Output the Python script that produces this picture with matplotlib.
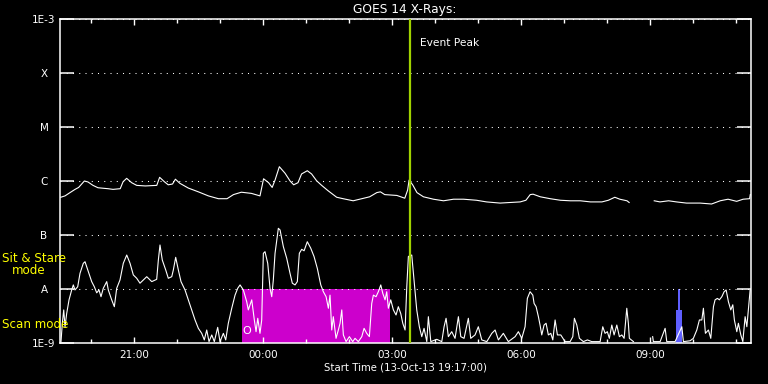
import numpy as np
import matplotlib
matplotlib.use("Agg")
import matplotlib.pyplot as plt
from matplotlib.ticker import NullLocator

nan = np.nan

# time axis: minutes elapsed since start (13-Oct-13 19:17:00)
START_CLOCK = "19:17"
X_END = 964

# long channel (upper curve), W/m^2
long_t = [1, 7, 14, 21, 26, 34, 39, 46, 53, 67,
          74, 84, 88, 93, 100, 107, 119, 135, 139, 146,
          151, 157, 161, 167, 179, 193, 207, 221, 233, 242,
          253, 267, 279, 284, 291, 296, 300, 306, 314, 321,
          326, 332, 337, 345, 351, 358, 365, 374, 386, 395,
          409, 421, 432, 442, 447, 453, 470, 481, 485, 487,
          492, 498, 507, 521, 535, 549, 563, 581, 595, 614,
          628, 642, 650, 656, 660, 670, 684, 698, 712, 726,
          740, 756, 765, 774, 781, 791, 794, 810, 829, 837,
          849, 860, 874, 893, 909, 921, 932, 944, 953, 962,
          963]
long_flux = [5.0e-7, 5.3e-7, 6.1e-7, 7.0e-7, 7.6e-7, 1.0e-6, 9.6e-7, 8.3e-7, 7.5e-7, 7.2e-7,
             7.0e-7, 7.2e-7, 9.7e-7, 1.12e-6, 9.3e-7, 8.3e-7, 8.1e-7, 8.3e-7, 1.17e-6, 9.6e-7,
             8.5e-7, 8.8e-7, 1.08e-6, 9.1e-7, 7.4e-7, 6.3e-7, 5.3e-7, 4.7e-7, 4.7e-7, 5.6e-7,
             6.2e-7, 5.9e-7, 5.3e-7, 1.10e-6, 9.3e-7, 7.6e-7, 1.04e-6, 1.84e-6, 1.39e-6, 1.0e-6,
             8.5e-7, 9.3e-7, 1.35e-6, 1.55e-6, 1.35e-6, 1.01e-6, 8.3e-7, 6.6e-7, 5.0e-7, 4.7e-7,
             4.3e-7, 4.7e-7, 5.1e-7, 6.1e-7, 6.3e-7, 5.6e-7, 5.4e-7, 4.8e-7, 6.8e-7, 1.04e-6,
             8.5e-7, 6.1e-7, 5.1e-7, 4.6e-7, 4.3e-7, 4.6e-7, 4.6e-7, 4.4e-7, 4.1e-7, 3.9e-7,
             4.0e-7, 4.1e-7, 4.4e-7, 5.6e-7, 5.7e-7, 5.1e-7, 4.7e-7, 4.4e-7, 4.3e-7, 4.3e-7,
             4.1e-7, 4.1e-7, 4.4e-7, 5.0e-7, 4.6e-7, 4.3e-7, 4.0e-7, nan, 4.3e-7, 4.1e-7,
             4.3e-7, 4.1e-7, 3.9e-7, 3.9e-7, 3.75e-7, 4.3e-7, 4.6e-7, 4.2e-7, 4.6e-7, 4.7e-7,
             5.6e-7]

# short channel (lower curve), W/m^2
short_t = [1.4, 3.2, 5.2, 7.0, 9.3, 12.6, 16.3, 18.6, 20.9, 24.7,
           27.9, 32.5, 34.9, 39.5, 44.2, 47.9, 51.2, 54.4, 57.2, 60.4,
           65.2, 67.4, 72.1, 75.8, 79.1, 83.7, 88.3, 93.1, 97.7, 102.3,
           107.0, 111.6, 116.2, 121.0, 128.0, 134.9, 137.2, 139.5, 142.7, 147.5,
           151.1, 155.9, 158.1, 161.4, 165.1, 168.8, 174.4, 179.0, 183.8, 188.4,
           193.0, 197.7, 201.3, 204.7, 207.9, 211.7, 215.3, 220.0, 223.2, 227.9,
           231.2, 234.8, 239.6, 244.2, 247.9, 251.2, 255.8, 260.5, 262.7, 265.1,
           267.5, 271.1, 273.5, 275.9, 279.0, 281.4, 283.7, 286.0, 289.8, 293.0,
           295.4, 297.6, 300.0, 304.6, 307.0, 311.6, 316.3, 320.9, 324.1, 327.9,
           331.1, 333.9, 337.2, 340.5, 345.0, 349.8, 354.4, 359.0, 363.8, 367.4,
           371.2, 374.4, 376.7, 379.1, 381.3, 385.1, 388.3, 390.7, 393.1, 395.3,
           399.1, 403.7, 408.4, 411.6, 416.2, 421.0, 424.2, 427.9, 431.6, 434.9,
           437.2, 440.9, 444.1, 447.5, 450.3, 453.5, 455.8, 458.1, 461.4, 465.1,
           468.8, 472.0, 475.4, 478.2, 481.4, 483.8, 486.0, 490.7, 493.9, 497.7,
           501.3, 504.7, 507.9, 511.7, 513.9, 517.3, 525.6, 532.6, 535.8, 538.6,
           541.8, 546.5, 551.1, 555.8, 559.1, 563.7, 569.7, 573.0, 579.0, 583.6,
           588.4, 595.4, 602.4, 607.0, 611.6, 618.5, 625.5, 634.9, 639.5, 644.2,
           648.8, 652.0, 655.8, 659.6, 661.4, 664.2, 667.4, 669.7, 672.1, 675.3,
           678.1, 681.3, 684.7, 687.5, 690.7, 693.9, 698.6, 704.6, 711.6, 715.4,
           717.6, 721.0, 724.6, 730.2, 735.8, 741.9, 753.5, 757.2, 760.4, 763.6,
           766.4, 769.8, 773.0, 776.8, 780.4, 783.8, 787.0, 790.7, 792.9, 794.3,
           800.0, 810.0, 826.8, 827.8, 837.2, 844.2, 846.5, 858.1, 867.5, 869.7,
           879.0, 883.6, 888.4, 892.0, 895.4, 897.6, 900.4, 904.6, 907.9, 911.6,
           913.9, 917.1, 919.9, 923.3, 926.5, 929.3, 932.5, 935.8, 938.6, 940.8,
           944.2, 946.4, 949.8, 952.6, 955.8, 958.2, 960.5, 962.8]
short_flux = [1.06e-9, 2.3e-9, 4.1e-9, 2.0e-9, 3.5e-9, 6.3e-9, 9.6e-9, 1.19e-8, 9.6e-9, 1.10e-8,
              1.95e-8, 2.99e-8, 3.2e-8, 2.09e-8, 1.37e-8, 1.10e-8, 8.5e-9, 9.6e-9, 7.2e-9, 1.03e-8,
              1.37e-8, 9.6e-9, 6.3e-9, 4.7e-9, 1.03e-8, 1.47e-8, 2.99e-8, 4.26e-8, 2.99e-8, 1.82e-8,
              1.58e-8, 1.28e-8, 1.47e-8, 1.69e-8, 1.37e-8, 1.51e-8, 3.44e-8, 6.53e-8, 3.44e-8, 2.25e-8,
              1.58e-8, 1.69e-8, 2.25e-8, 3.86e-8, 2.25e-8, 1.37e-8, 9.6e-9, 6.3e-9, 4.1e-9, 2.67e-9,
              1.87e-9, 1.51e-9, 1.14e-9, 1.74e-9, 1.06e-9, 1.41e-9, 1.06e-9, 1.95e-9, 1.06e-9, 1.51e-9,
              1.14e-9, 2.32e-9, 4.4e-9, 7.7e-9, 1.03e-8, 1.19e-8, 9.6e-9, 5.8e-9, 4.1e-9, 5.1e-9,
              6.3e-9, 2.67e-9, 1.62e-9, 2.87e-9, 1.51e-9, 2.67e-9, 4.58e-8, 4.91e-8, 2.99e-8, 1.03e-8,
              7.2e-9, 1.47e-8, 4.58e-8, 1.33e-7, 1.24e-7, 6.07e-8, 3.7e-8, 1.95e-8, 1.28e-8, 1.19e-8,
              1.37e-8, 4.58e-8, 5.43e-8, 5.1e-8, 7.51e-8, 5.7e-8, 4.0e-8, 2.4e-8, 1.19e-8, 8.9e-9,
              7.2e-9, 4.4e-9, 7.7e-9, 1.74e-9, 3.07e-9, 1.22e-9, 1.74e-9, 2.32e-9, 4.1e-9, 1.41e-9,
              1.06e-9, 1.31e-9, 1.06e-9, 1.22e-9, 1.06e-9, 1.31e-9, 1.87e-9, 1.51e-9, 1.31e-9, 5.4e-9,
              7.7e-9, 7.2e-9, 8.9e-9, 1.19e-8, 8.3e-9, 6.3e-9, 8.9e-9, 4.4e-9, 6.3e-9, 4.1e-9,
              3.3e-9, 4.7e-9, 3.5e-9, 2.32e-9, 1.74e-9, 1.10e-8, 4.0e-8, 4.26e-8, 1.47e-8, 4.1e-9,
              2.0e-9, 1.31e-9, 1.87e-9, 1.06e-9, 3.07e-9, 1.06e-9, 1.17e-9, 1.06e-9, 2.0e-9, 2.87e-9,
              1.31e-9, 1.62e-9, 1.22e-9, 3.07e-9, 1.31e-9, 1.22e-9, 2.87e-9, 1.22e-9, 1.41e-9, 2.0e-9,
              1.14e-9, 1.06e-9, 1.51e-9, 1.74e-9, 1.14e-9, 1.51e-9, 1.06e-9, 1.31e-9, 1.62e-9, 1.22e-9,
              2.0e-9, 6.7e-9, 8.9e-9, 7.7e-9, 5.4e-9, 4.7e-9, 3.07e-9, 2.15e-9, 1.41e-9, 2.15e-9,
              2.32e-9, 1.41e-9, 1.51e-9, 1.14e-9, 2.67e-9, 1.41e-9, 1.41e-9, 1.06e-9, 1.06e-9, 1.31e-9,
              2.87e-9, 2.15e-9, 1.22e-9, 1.06e-9, 1.14e-9, 1.06e-9, 1.06e-9, 2.0e-9, 1.51e-9, 1.62e-9,
              1.22e-9, 2.15e-9, 1.41e-9, 2.15e-9, 1.31e-9, 1.41e-9, 1.22e-9, 4.4e-9, 2.32e-9, 1.22e-9,
              1.06e-9, nan, 1.31e-9, 1.06e-9, 1.06e-9, 1.87e-9, 1.06e-9, 1.06e-9, 2.0e-9, 1.06e-9,
              1.1e-9, 1.22e-9, 1.74e-9, 2.67e-9, 2.67e-9, 4.4e-9, 1.51e-9, 1.74e-9, 1.22e-9, 4.7e-9,
              6.3e-9, 6.7e-9, 6.3e-9, 7.2e-9, 8.9e-9, 9.6e-9, 5.8e-9, 4.1e-9, 5.1e-9, 2.67e-9,
              1.62e-9, 2.32e-9, 1.41e-9, 1.06e-9, 3.07e-9, 2.0e-9, 4.4e-9, 9.6e-9]

# flare class levels
level_vals = [1e-9, 1e-8, 1e-7, 1e-6, 1e-5, 1e-4, 1e-3]
level_labels = ["1E-9", "A", "B", "C", "M", "X", "1E-3"]

major_clock = ["21:00", "00:00", "03:00", "06:00", "09:00"]
minor_hours = [20, 22, 23, 1, 2, 4, 5, 7, 8, 10, 11]

event_peak_t = 488          # 03:25
scan_span = (254, 460)      # scan mode block (magenta)
blue_wide = (860, 868, 4.1e-9)
blue_thin = (862, 865.5, 1e-8)
marker_t, marker_flux = 261, 1.67e-9


def clock_to_min(hh, mm=0):
    h0, m0 = map(int, START_CLOCK.split(":"))
    return (hh * 60 + mm - (h0 * 60 + m0)) % 1440


major_pos = [clock_to_min(int(c[:2]), int(c[3:])) for c in major_clock]
minor_pos = [clock_to_min(h) for h in minor_hours]

W, H = 768, 384
fig = plt.figure(figsize=(W / 100, H / 100), dpi=100, facecolor="black")
ax = fig.add_axes([60 / W, 1 - 343 / H, 691 / W, 324 / H], facecolor="black")

ax.set_yscale("log")
ax.set_xlim(0, X_END)
ax.set_ylim(1e-9, 1e-3)

# scan mode block and blue bars
ax.fill_between([scan_span[0], scan_span[1]], 1e-9, 1e-8, color="#cc00cc", lw=0, zorder=1)
ax.fill_between([blue_wide[0], blue_wide[1]], 1e-9, blue_wide[2], color="#5f5fff", lw=0, zorder=1)
ax.fill_between([blue_thin[0], blue_thin[1]], 1e-9, blue_thin[2], color="#5f5fff", lw=0, zorder=1)

ax.plot(long_t, long_flux, color="white", lw=0.8, zorder=3)
ax.plot(short_t, short_flux, color="white", lw=0.8, zorder=3)

ax.axvline(event_peak_t, color="#a0d200", lw=1.6, zorder=4)
ax.text(event_peak_t + 14, 3.6e-4, "Event Peak", color="white", fontsize=7.7,
        ha="left", va="center")
ax.text(marker_t, marker_flux, "O", color="white", fontsize=8, ha="center", va="center", zorder=5)

# axes styling
for s in ax.spines.values():
    s.set_color("white")
    s.set_linewidth(1.1)

ax.set_yticks(level_vals, level_labels, ha="center")
ax.yaxis.set_minor_locator(NullLocator())
ax.tick_params(axis="y", which="major", direction="in", length=10, width=1.1,
               left=True, right=True, colors="white", labelsize=7.5, pad=11.5)
ax.yaxis.grid(True, color="white", linestyle=(0, (1, 5)), linewidth=0.75)

ax.set_xticks(major_pos, major_clock)
ax.set_xticks(minor_pos, minor=True)
ax.tick_params(axis="x", which="major", direction="in", length=4.5, width=1,
               top=True, bottom=True, colors="white", labelsize=7.5, pad=5)
ax.tick_params(axis="x", which="minor", direction="in", length=2.9, width=1,
               top=True, bottom=True, colors="white")
ax.set_xlabel("Start Time (13-Oct-13 19:17:00)", color="white", fontsize=7.3, labelpad=2)

fig.text(404.5 / W, 1 - 9 / H, "GOES 14 X-Rays:", color="white", fontsize=8.8,
         ha="center", va="center")

# mode labels
fig.text(2 / W, 1 - 259 / H, "Sit & Stare", color="yellow", fontsize=8.6, ha="left", va="center")
fig.text(12 / W, 1 - 271 / H, "mode", color="yellow", fontsize=8.6, ha="left", va="center")
fig.text(2 / W, 1 - 324 / H, "Scan mode", color="yellow", fontsize=8.6, ha="left", va="center")

fig.savefig("out.png", dpi=100, facecolor="black")
